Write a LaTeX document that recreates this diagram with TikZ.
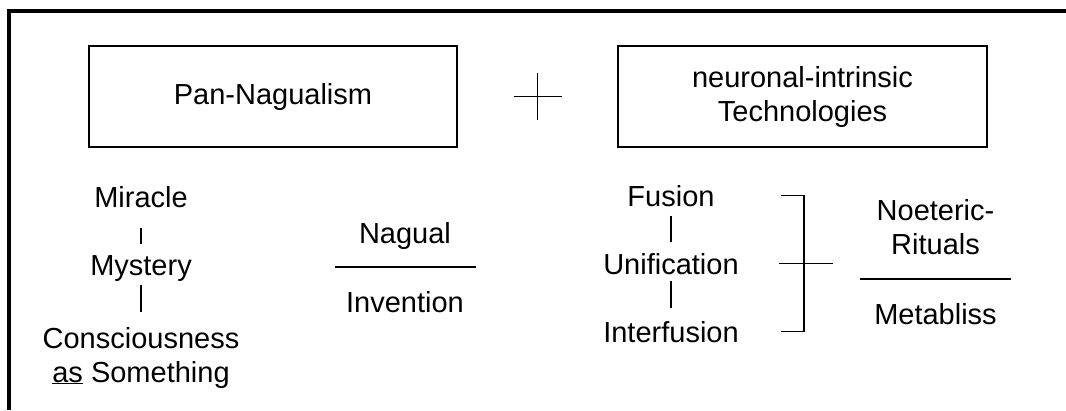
\documentclass[tikz,border=0pt]{standalone}
\usepackage{fontspec}
\setmainfont{Liberation Sans}
\usepackage{tikz}
\usetikzlibrary{calc}
\usetikzlibrary{positioning}

\begin{document}
\begin{tikzpicture}[x=1pt,y=-1pt,node distance=68pt]
		\tikzstyle{conceptbox}=[rectangle,draw,line width=1.8pt,
			minimum width=368pt,minimum height=101pt,align=center,
			font=\fontsize{29}{34}\selectfont];
		\tikzstyle{term}=[inner sep=0pt,text height=21pt,text depth=0pt,
			font=\fontsize{29}{34}\selectfont];
		\tikzstyle{twoline}=[inner sep=0pt,align=center,
			font=\fontsize{29}{34}\selectfont];
		\tikzstyle{link}=[line width=1.8pt];
		\useasboundingbox(0,0)rectangle(1066,410);
		\draw[line width=4pt](8.5,410)|-(1066,11);

		\node[conceptbox](pan)at(273,96.5){Pan-Nagualism};
		\node[conceptbox,minimum width=369pt](tech)at(802.5,96.5){neuronal-intrinsic\\Technologies};
		\coordinate(plus)at($(pan.east)!.5!(tech.west)$);
		\draw[link](plus)++(-24,0)--++(48,0)(plus)++(0,-23.5)--++(0,47);

		\node[term](miracle)at(141,196.5){Miracle};
		\node[term,below of=miracle](mystery){Mystery};
		\node[twoline,below of=mystery,node distance=93pt](conscious){Consciousness\\\underline{as} Something};
		\draw[link,shorten <=21pt,shorten >=9.5pt](miracle)--(mystery);
		\draw[link,shorten <=9.5pt,shorten >=15pt](mystery)--(conscious);

		\node[term](nagual)at(405,233){Nagual};
		\node[term,below of=nagual,node distance=68.5pt](invention){Invention};
		\coordinate(bar1)at($(nagual.south)!.5!(invention.north)$);
		\draw[link](bar1)++(-70.5,0)--++(141,0);

		\node[term](fusion)at(671,195.5){Fusion};
		\node[term,below of=fusion](unification){Unification};
		\node[term,below of=unification](interfusion){Interfusion};
		\draw[link,shorten <=9.5pt,shorten >=10.5pt](fusion)--(unification);
		\draw[link,shorten <=7pt,shorten >=13pt](unification)--(interfusion);
		\coordinate(spine)at([xshift=65pt]unification.east);
		\draw[link]([xshift=-23pt]spine|-fusion)-|(spine|-interfusion)--++(-23,0);
		\draw[link]([xshift=-24.5pt]spine)--++(54,0);

		\node[twoline](noeteric)at(935.5,227.6){Noeteric-\\Rituals};
		\node[term,below of=noeteric,node distance=86pt](metabliss){Metabliss};
		\coordinate(bar2)at($(noeteric.south)!.5!(metabliss.north)$);
		\draw[link](bar2)++(-75.5,0)--++(151,0);
	\end{tikzpicture}
\end{document}
